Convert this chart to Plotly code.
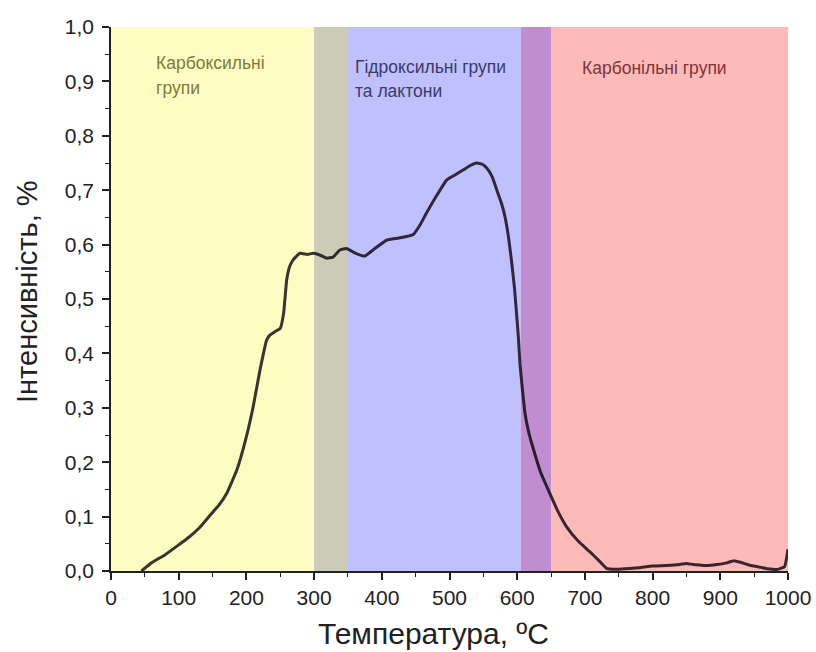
import plotly.graph_objects as go

# Temperature (°C) and intensity (%) of the desorption curve
temperature = [45, 60, 80, 100, 115, 131, 146, 160, 171, 186, 200, 210, 220, 230, 235, 242,
               250, 255, 259.5, 264, 269, 279, 290, 299, 310, 318.6, 328, 338, 348, 360,
               375, 390, 407, 425, 446, 456, 466, 480, 496, 508, 520, 530, 540, 548, 555,
               563, 570, 577, 582, 587, 592, 596, 599, 602, 604, 608, 611.5, 617, 623,
               635, 648, 660, 673, 690, 707.5, 720, 732, 745, 760, 780, 800, 820, 840,
               850, 860, 870, 880, 895, 910, 920, 930, 945, 955, 970, 985, 995, 1000]
intensity = [0.0, 0.015, 0.03, 0.048, 0.062, 0.08, 0.102, 0.122, 0.143, 0.186, 0.247, 0.302,
             0.369, 0.425, 0.434, 0.44, 0.446, 0.474, 0.535, 0.56, 0.572, 0.584, 0.582,
             0.584, 0.58, 0.575, 0.577, 0.590, 0.593, 0.585, 0.579, 0.593, 0.608, 0.612,
             0.618, 0.635, 0.658, 0.688, 0.719, 0.728, 0.737, 0.745, 0.750, 0.748, 0.741,
             0.725, 0.700, 0.675, 0.651, 0.615, 0.566, 0.52, 0.474, 0.425, 0.382, 0.33,
             0.290, 0.255, 0.228, 0.18, 0.143, 0.11, 0.081, 0.055, 0.035, 0.02, 0.005,
             0.003, 0.004, 0.006, 0.009, 0.01, 0.012, 0.014, 0.012, 0.011, 0.01, 0.012,
             0.015, 0.019, 0.016, 0.01, 0.008, 0.004, 0.003, 0.008, 0.04]

# Functional-group temperature ranges (start, end, fill colour)
region_start = [0, 300, 350, 605, 650]
region_end = [300, 350, 605, 650, 1000]
region_color = ["#FEFCC2", "#CBCBB8", "#C0C0FE", "#BF8DD0", "#FEB9B9"]

# Group annotation lines
label_text = ["Карбоксильні", "групи", "Гідроксильні групи", "та лактони", "Карбонільні групи"]
label_x = [64, 64, 358, 358, 693]
label_y = [0.933, 0.887, 0.927, 0.883, 0.925]
label_color = ["#7c7c38", "#7c7c38", "#3a3a68", "#3a3a68", "#7a3636"]

x_ticks = [0, 100, 200, 300, 400, 500, 600, 700, 800, 900, 1000]
y_ticks = [0.0, 0.1, 0.2, 0.3, 0.4, 0.5, 0.6, 0.7, 0.8, 0.9, 1.0]
y_tick_text = ["0,0", "0,1", "0,2", "0,3", "0,4", "0,5", "0,6", "0,7", "0,8", "0,9", "1,0"]

x_title = "Температура, ºC"
y_title = "Інтенсивність, %"

fig = go.Figure()

fig.add_trace(go.Scatter(
    x=temperature, y=intensity, mode="lines",
    line=dict(color="rgba(10,0,10,0.8)", width=3, shape="spline", smoothing=0.35),
    showlegend=False, hoverinfo="skip",
))

for x0, x1, c in zip(region_start, region_end, region_color):
    fig.add_shape(type="rect", xref="x", yref="y", x0=x0, x1=x1, y0=0, y1=1,
                  fillcolor=c, line=dict(width=0), layer="below")

for t, x, y, c in zip(label_text, label_x, label_y, label_color):
    fig.add_annotation(x=x, y=y, xref="x", yref="y", text=t, showarrow=False,
                       xanchor="left", yanchor="middle", align="left",
                       font=dict(family="Liberation Sans, Arial", size=17.5, color=c))

# Axis titles placed as paper-anchored text
title_font = dict(family="Liberation Sans, Arial", size=30, color="#222222")
fig.add_annotation(x=0.477, y=-0.114, xref="paper", yref="paper", text=x_title,
                   showarrow=False, xanchor="center", yanchor="middle", font=title_font)
fig.add_annotation(x=-0.124, y=0.513, xref="paper", yref="paper", text=y_title,
                   showarrow=False, xanchor="center", yanchor="middle", textangle=-90,
                   font=dict(title_font, size=29))

axis_font = dict(family="Liberation Sans, Arial", size=21, color="#222222")

fig.update_xaxes(
    range=[0, 1000], tickvals=x_ticks, ticks="outside", ticklen=7, tickwidth=1.5,
    tickcolor="#222222", showline=True, linecolor="#222222", linewidth=1.5,
    showgrid=False, zeroline=False, tickfont=axis_font, automargin=False,
    minor=dict(dtick=50, ticks="outside", ticklen=4, tickwidth=1.2, tickcolor="#222222"),
)
fig.update_yaxes(
    range=[0, 1.0], tickvals=y_ticks, ticktext=y_tick_text, ticks="outside", ticklen=7,
    tickwidth=1.5, tickcolor="#222222", showline=True, linecolor="#222222", linewidth=1.5,
    showgrid=False, zeroline=False, tickfont=axis_font, automargin=False,
    ticklabelstandoff=4,
    minor=dict(dtick=0.05, ticks="outside", ticklen=4, tickwidth=1.2, tickcolor="#222222"),
)

fig.update_layout(
    width=816, height=652,
    margin=dict(l=111, r=28, t=27, b=81),
    paper_bgcolor="white", plot_bgcolor="white",
)

fig.write_html("out.html")
